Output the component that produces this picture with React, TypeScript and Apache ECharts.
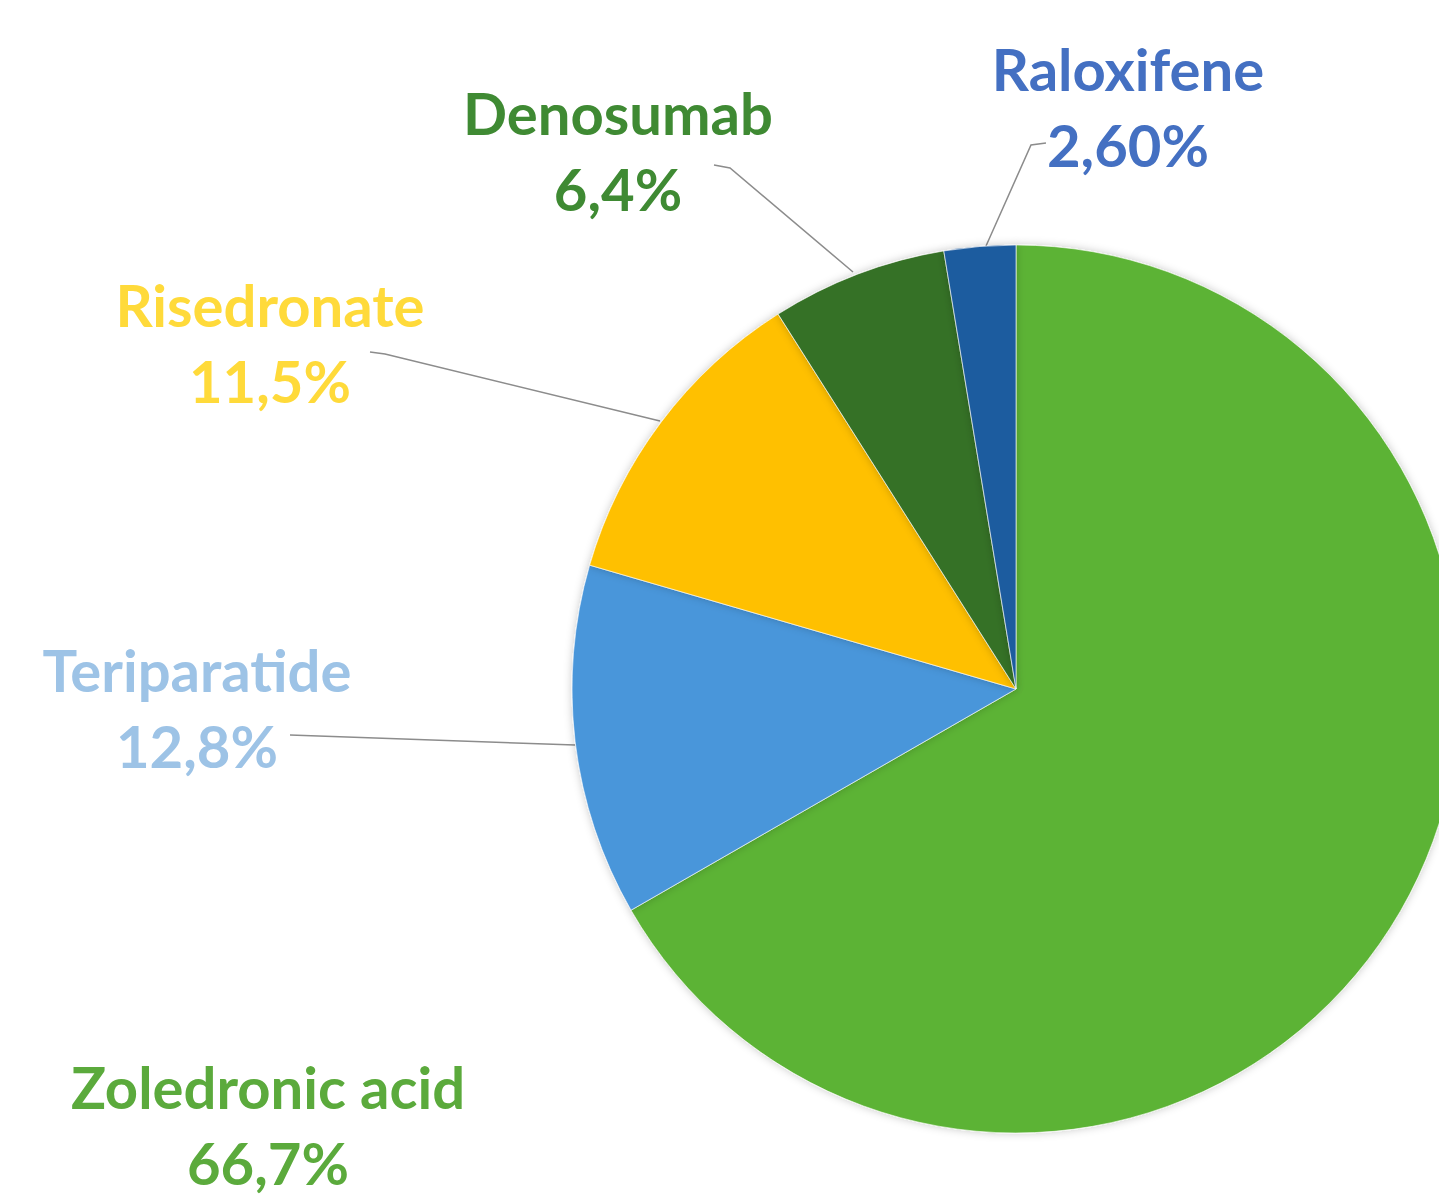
import React, { useEffect, useRef } from "react";
import * as echarts from "echarts";

const categories = ["Zoledronic acid", "Teriparatide", "Risedronate", "Denosumab", "Raloxifene"];
const values = [66.7, 12.8, 11.5, 6.4, 2.6];
const valueLabels = ["66,7%", "12,8%", "11,5%", "6,4%", "2,60%"];
const sliceColors = ["#5CB335", "#4A96DA", "#FFC000", "#367126", "#1F5C9F"];
const labelColors = ["#5BAA3C", "#9DC3E6", "#FFDA3A", "#3F8A33", "#4470C2"];

// label centre and leader line per slice (layout, not data)
const labelPos = [
  { x: 268, y: 1124, line: null },
  { x: 197, y: 707, line: [[290, 735], [575, 745]] },
  { x: 270, y: 342, line: [[370, 352], [385, 354], [660, 421]] },
  { x: 618, y: 150, line: [[714, 165], [730, 168], [853, 272]] },
  { x: 1128, y: 106, line: [[1046, 143], [1031, 145], [986, 246]] },
];

export default function App() {
  const ref = useRef<HTMLDivElement>(null);
  useEffect(() => {
    if (!ref.current) return;
    const chart = echarts.init(ref.current, undefined, { renderer: "svg" });
    chart.setOption({
      animation: false,
      backgroundColor: "#ffffff",
      series: [
        {
          type: "pie",
          center: [1016, 689],
          radius: 444,
          startAngle: 90,
          clockwise: true,
          avoidLabelOverlap: false,
          itemStyle: {
            borderColor: "rgba(255,255,255,0.6)",
            borderWidth: 1,
            shadowBlur: 8,
            shadowColor: "rgba(0,0,0,0.22)",
          },
          label: {
            show: true,
            position: "outside",
            fontFamily: "Lato",
            fontWeight: "bold",
            fontSize: 58,
            lineHeight: 76,
            align: "center",
          },
          labelLine: {
            show: true,
            lineStyle: { color: "#8C8C8C", width: 1.5 },
          },
          labelLayout: (params: any) => {
            const p = labelPos[params.dataIndex];
            const out: any = { x: p.x, y: p.y, align: "center", verticalAlign: "middle" };
            if (p.line) out.labelLinePoints = p.line;
            return out;
          },
          data: categories.map((name, i) => ({
            name,
            value: values[i],
            itemStyle: { color: sliceColors[i] },
            label: {
              color: labelColors[i],
              formatter: () => `${name}\n${valueLabels[i]}`,
            },
            labelLine: { show: i !== 0 },
          })),
        },
      ],
    });
    return () => chart.dispose();
  }, []);
  return (
    <div
      ref={ref}
      style={{ position: "fixed", left: 0, top: 0, width: 1439, height: 1197, background: "#fff" }}
    />
  );
}
